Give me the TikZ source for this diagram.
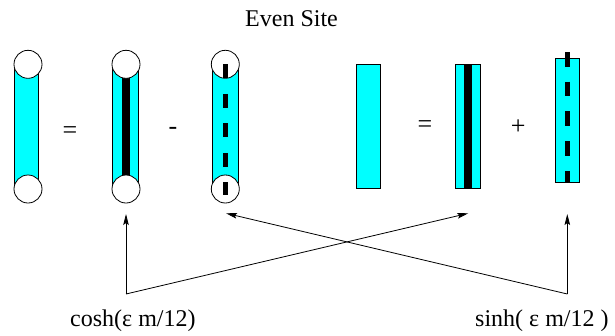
\documentclass[tikz,border=0pt]{standalone}
\usepackage{fontspec}
\setmainfont{Liberation Serif}
\usetikzlibrary{arrows.meta}
\definecolor{aqua}{RGB}{0,255,255}
\begin{document}
\begin{tikzpicture}[x=1pt,y=-1pt,
  tuberect/.style={draw=black, fill=aqua, line width=0.8pt, inner sep=0pt, outer sep=0pt},
  endcircle/.style={circle, draw=black, fill=white, line width=0.8pt, minimum size=28pt, inner sep=0pt, outer sep=0pt},
  blackbar/.style={fill=black},
  dashbar/.style={line width=5pt, dash pattern=on 14pt off 15.5pt},
  arr/.style={-{Stealth[length=11pt,width=5.5pt,inset=2pt]}, line width=0.8pt},
  op/.style={font=\fontsize{26}{26}\selectfont, inner sep=0pt},
  lbl/.style={font=\fontsize{24}{28}\selectfont, anchor=base west, inner sep=0pt}]
\useasboundingbox (0,0) rectangle (615,335);

% title
\node[lbl] (title) at (245,26.7) {Even Site};

% ---- left group ----
% tube 1
\node[tuberect, minimum width=24.7pt, minimum height=125pt] (r1) at (26.35,126.5) {};
\node[endcircle] (c1t) at (28,64.3) {};
\node[endcircle] (c1b) at (28,189) {};
\node[op] (eq1) at (70,133) {=};
% tube 2
\node[tuberect, minimum width=25.3pt, minimum height=125pt] (r2) at (125.35,126.5) {};
\fill[blackbar] (121.7,64.3) rectangle (130,189);
\node[endcircle] (c2t) at (126,64.3) {};
\node[endcircle] (c2b) at (126,189) {};
\node[op] (minus) at (173,131) {-};
% tube 3
\node[tuberect, minimum width=25.3pt, minimum height=125pt] (r3) at (225.35,126.5) {};
\node[endcircle] (c3t) at (225.3,64.3) {};
\node[endcircle] (c3b) at (225.3,189) {};
\draw[dashbar] (c3t.center) -- (225.3,195);

% ---- right group ----
\node[tuberect, minimum width=24.7pt, minimum height=124pt] (r4) at (368.35,126.3) {};
\node[op] (eq2) at (425,127) {=};
\node[tuberect, minimum width=25pt, minimum height=124pt] (r5) at (467.8,126.3) {};
\fill[blackbar] (464,64.3) rectangle (472.3,188.3);
\node[op] (plus) at (518.3,127) {+};
\node[tuberect, minimum width=24.7pt, minimum height=124pt] (r6) at (567.35,120.3) {};
\draw[dashbar, dash pattern=on 14.7pt off 15pt] (567.35,52) -- (r6.south);

% ---- labels and arrows ----
\node[lbl] (cosh) at (70,326) {cosh(ε m/12)};
\node[lbl] (sinh) at (475,326) {sinh( ε m/12 )};
\coordinate (cf) at (126,294);
\coordinate (sf) at (567.3,294);
\coordinate (tipA) at (126,214);
\coordinate (tipB) at (468.3,213.3);
\coordinate (tipC) at (567.3,214);
\coordinate (tipD) at (226,213.3);
\draw[arr] (cf) -- (tipA);
\draw[arr] (cf) -- (tipB);
\draw[arr] (sf) -- (tipC);
\draw[arr] (sf) -- (tipD);
\end{tikzpicture}
\end{document}
